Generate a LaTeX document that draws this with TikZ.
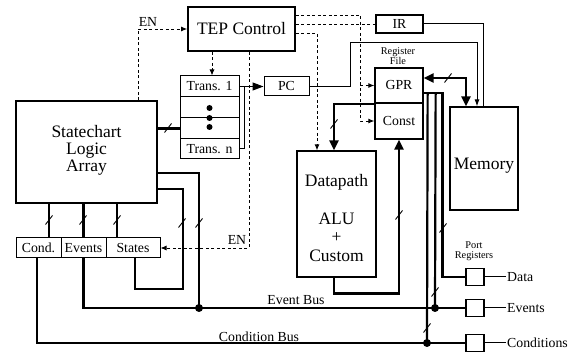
\documentclass[tikz,border=0pt]{standalone}
\usepackage{fontspec}
\setmainfont{Liberation Serif}
\usetikzlibrary{arrows.meta}
\newcommand{\myslash}[1]{\draw[line width=0.9pt] (#1) ++(-3.5,4.5) -- ++(7,-9);}
\begin{document}
\begin{tikzpicture}[x=1pt,y=-1pt,
  bigfont/.style={font=\fontsize{17.5}{19}\selectfont},
  medfont/.style={font=\fontsize{13.8}{16}\selectfont},
  smallfont/.style={font=\fontsize{10.3}{10.5}\selectfont},
  cell/.style={draw, line width=1pt, inner sep=0pt, medfont},
  heavybox/.style={draw, line width=1.7pt, inner sep=0pt},
  midbox/.style={draw, line width=1.2pt, inner sep=0pt},
  regbox/.style={draw, line width=1.3pt, inner sep=0pt, medfont},
  portbox/.style={draw, line width=1.2pt, inner sep=0pt, minimum width=18pt, minimum height=17pt},
  bus/.style={line width=2.2pt},
  thin/.style={line width=1pt},
  dsh/.style={line width=0.9pt, dash pattern=on 3pt off 2.5pt},
  dsharrow/.style={dsh, -{Latex[length=6pt,width=5pt]}},
  busarrow/.style={bus, -{Triangle[length=10pt,width=9pt]}},
  dot/.style={circle, fill, inner sep=0pt, minimum size=8pt},
  smalldot/.style={circle, fill, inner sep=0pt, minimum size=6pt},
  txt/.style={inner sep=0pt}
]
\useasboundingbox (0,0) rectangle (570,352);

% main boxes
\node[heavybox, bigfont, minimum width=107pt, minimum height=44pt] (tep) at (241.5,29) {TEP Control};
\node[heavybox, minimum width=141pt, minimum height=102pt] (sla) at (86.5,152) {};
\node[bigfont, txt, anchor=base] (sla1) at (86.5,138) {Statechart};
\node[bigfont, txt, anchor=base] (sla2) at (86.5,155) {Logic};
\node[bigfont, txt, anchor=base] (sla3) at (86.5,172) {Array};

% transition stack
\node[cell, minimum width=59pt, minimum height=21pt] (t1) at (209.5,86.5) {Trans. 1};
\node[cell, minimum width=59pt, minimum height=21pt] (td1) at (209.5,107.5) {};
\node[cell, minimum width=59pt, minimum height=21pt] (td2) at (209.5,128.5) {};
\node[cell, minimum width=59pt, minimum height=20pt] (tn) at (209.5,149) {Trans. n};
\node[smalldot] (d1) at (209.5,108) {};
\node[smalldot] (d2) at (209.5,118) {};
\node[smalldot] (d3) at (209.5,127) {};

\node[cell, minimum width=45pt, minimum height=19pt] (pc) at (286.5,86.5) {PC};
\node[cell, line width=1.2pt, minimum width=47pt, minimum height=18pt] (ir) at (399.5,24) {IR};

% register file
\node[regbox, minimum width=48pt, minimum height=35pt] (gpr) at (399,85.5) {GPR};
\node[regbox, minimum width=48pt, minimum height=36pt] (const) at (399,121) {Const};
\node[smallfont, txt, anchor=base] (rf1) at (398,55) {Register};
\node[smallfont, txt, anchor=base] (rf2) at (398,65) {File};

% datapath
\node[midbox, minimum width=79pt, minimum height=126pt] (dp) at (336.5,214) {};
\node[bigfont, txt, anchor=base] (dpt1) at (336.5,187) {Datapath};
\node[bigfont, txt, anchor=base] (dpt2) at (336.5,225) {ALU};
\node[bigfont, txt, anchor=base] (dpt3) at (336.5,243) {+};
\node[bigfont, txt, anchor=base] (dpt4) at (336.5,262) {Custom};

% memory
\node[midbox, minimum width=68pt, minimum height=103pt] (mem) at (484,158.5) {};
\node[bigfont, txt, anchor=base] (memt) at (484,170) {Memory};

% cond/events/states
\node[cell, minimum width=45pt, minimum height=20pt] (cond) at (38.5,248) {Cond.};
\node[cell, minimum width=45pt, minimum height=20pt] (ev) at (83.5,248) {Events};
\node[cell, minimum width=54pt, minimum height=20pt] (st) at (133,248) {States};

% port registers
\node[portbox] (pdata) at (475,277) {};
\node[portbox] (pev) at (475,308) {};
\node[portbox] (pcond) at (475,343) {};
\node[smallfont, txt, anchor=base] (pr1) at (474,249) {Port};
\node[smallfont, txt, anchor=base] (pr2) at (474,258.5) {Registers};
\node[medfont, anchor=west, inner sep=1pt] (ldata) at (506,277) {Data};
\node[medfont, anchor=west, inner sep=1pt] (lev) at (506,308) {Events};
\node[medfont, anchor=west, inner sep=1pt] (lcond) at (506,343) {Conditions};
\draw[thin] (pdata.east) -- (ldata.west);
\draw[thin] (pev.east) -- (lev.west);
\draw[thin] (pcond.east) -- (lcond.west);

% bus labels
\node[medfont, txt, anchor=base] (evbus) at (296,305) {Event Bus};
\node[medfont, txt, anchor=base] (cdbus) at (259,341.5) {Condition Bus};

% junction dots
\node[dot] (jsla) at (199,308) {};
\node[dot] (jev) at (435,308) {};
\node[dot] (jcond) at (427,343) {};

% dashed control lines
\draw[dsharrow] ([xshift=51.5]sla.north) |- (tep.west);
\node[medfont, txt, anchor=base] (en1) at (148,27) {EN};
\draw[dsharrow] ([xshift=-29.5]tep.south) -- ([xshift=2.5]t1.north);
\draw[dsharrow] ([xshift=7.5]tep.south) |- (st.east);
\node[medfont, txt, anchor=base] (en2) at (237,245) {EN};
\draw[dsharrow] ([yshift=14]tep.east) -| ([xshift=-14]const.west) -- (const.west);
\draw[dsharrow] ([xshift=-14]gpr.west) -- (gpr.west);
\draw[dsh] ([yshift=5]tep.east) -- (ir.west);
\draw[dsharrow] ([yshift=-4]tep.east) -| ([xshift=-19.5]dp.north);

% thin lines
\draw[thin] (ir.east) -| ([xshift=-1]mem.north);
\draw[thin, -{Latex[length=7pt,width=5pt]}] (pc.east) -- ++(41,0) -- ++(0,-43.5) -| ([xshift=-7]mem.north);
\draw[thin, -{Triangle[length=11pt,width=8pt]}] (t1.east) -- (pc.west);
\draw[thin] (tn.east) -| ([xshift=5]t1.east);

% buses
\draw[bus, {Triangle[length=10pt,width=9pt]}-{Triangle[length=10pt,width=9pt]}] ([yshift=7.5]gpr.east) -| ([xshift=-18]mem.north);
\draw[busarrow] (gpr.south west) -| ([xshift=-2.5]dp.north);
\draw[busarrow] ([xshift=-2.5]dp.south) -- ++(0,16) -| (const.south);
\draw[bus] ([yshift=-7.5]gpr.east) -| ([xshift=-23]pdata.west) -- (pdata.west);
\draw[bus] ([xshift=4,yshift=-7.5]gpr.east) -- (jcond.center);
\draw[bus] ([xshift=12,yshift=-7.5]gpr.east) -- (jev.center);

\draw[bus] (sla.east |- td2.west) -- (td2.west);
\draw[bus] ([xshift=10.5]cond.north) -- ++(0,-35);
\draw[bus] (ev.north) -- ++(0,-35);
\draw[bus] ([xshift=-16]st.north) -- ++(0,-35);
\draw[bus] ([yshift=-21]sla.east) -| (jsla.center);
\draw[bus] ([yshift=-37]sla.east) -- ++(25,0) -- ++(0,100) -| ([xshift=2]st.south);
\draw[bus] (ev.south) |- (pev.west);
\draw[bus] ([xshift=-1.5]cond.south) |- (pcond.west);

% slash marks
\myslash{168,128}
\myslash{49,220}
\myslash{83,220}
\myslash{117,220}
\myslash{182,223}
\myslash{199,223}
\myslash{334,124}
\myslash{399,215}
\myslash{448,78}
\myslash{443,228}
\myslash{435,292}
\myslash{427,328}
\end{tikzpicture}
\end{document}
